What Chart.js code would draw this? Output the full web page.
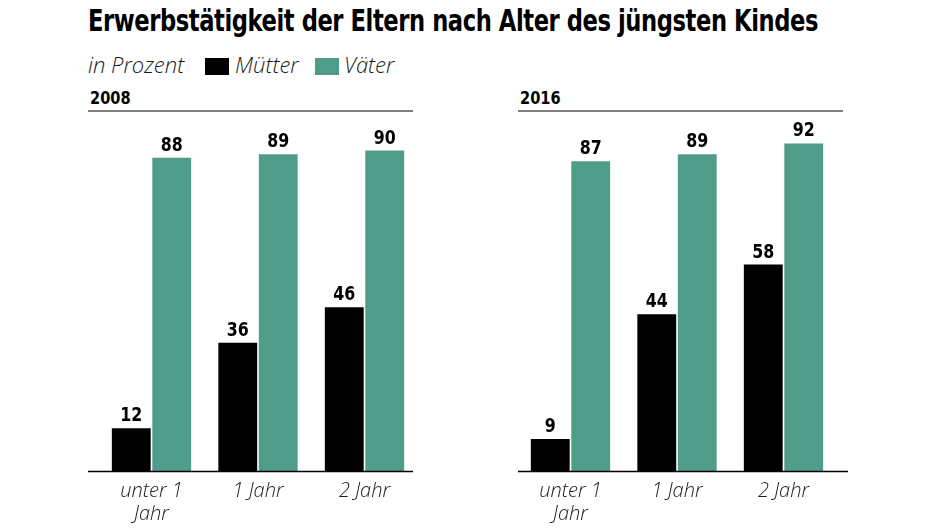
<!DOCTYPE html>
<html><head><meta charset="utf-8">
<script src="https://cdn.jsdelivr.net/npm/chart.js@4/dist/chart.umd.min.js"></script>
<style>
html,body{margin:0;padding:0;background:#fff;width:940px;height:528px;overflow:hidden;position:relative}
.t{position:absolute;white-space:nowrap;color:#000}
#title{left:88px;top:3px;font-family:"DejaVu Sans Condensed","DejaVu Sans",sans-serif;font-stretch:condensed;font-weight:bold;font-size:30px;transform-origin:0 0;letter-spacing:-0.5px}
.it{font:italic 300 22px "Open Sans";color:#1a1a1a;top:49px}
.sq{position:absolute;width:24px;height:17px}
.yr{font-family:"DejaVu Sans Condensed","DejaVu Sans",sans-serif;font-stretch:condensed;font-weight:bold;font-size:18px;top:87px;transform-origin:0 0;transform:scaleX(0.9)}
.ln{position:absolute;height:2px;background:#7f7f7f;top:110px}
canvas{position:absolute}
</style></head><body>
<div class="t" id="title">Erwerbstätigkeit der Eltern nach Alter des jüngsten Kindes</div>
<div class="t it" style="left:88px">in Prozent</div>
<div class="sq" style="left:205px;top:58px;background:#000"></div>
<div class="t it" style="left:235px">Mütter</div>
<div class="sq" style="left:315px;top:58px;background:#4f9c88"></div>
<div class="t it" style="left:344px">Väter</div>
<div class="t yr" style="left:90px">2008</div>
<div class="t yr" style="left:520px">2016</div>
<div class="ln" style="left:88px;width:325px"></div>
<div class="ln" style="left:518px;width:325px"></div>
<div style="position:absolute;left:80px;top:112px;width:350px;height:416px"><canvas id="c1"></canvas></div>
<div style="position:absolute;left:505px;top:112px;width:350px;height:416px"><canvas id="c2"></canvas></div>
<script>
const categories = [["unter 1","Jahr"],"1 Jahr","2 Jahr"];
const mothers2008 = [12, 36, 46];
const fathers2008 = [88, 89, 90];
const mothers2016 = [9, 44, 58];
const fathers2016 = [87, 89, 92];

(function(){const t=document.getElementById('title');const w=t.getBoundingClientRect().width;t.style.transform='scaleX('+(730/w)+')';})();

const valueLabels = {
  id:'valueLabels',
  afterDatasetsDraw(chart){
    const ctx=chart.ctx;ctx.save();
    ctx.font='bold 20px "DejaVu Sans Condensed", "DejaVu Sans", sans-serif';
    try{ctx.fontStretch='condensed';}catch(e){}
    ctx.fillStyle='#000';ctx.textAlign='center';ctx.textBaseline='alphabetic';
    chart.data.datasets.forEach((ds,i)=>{
      chart.getDatasetMeta(i).data.forEach((bar,j)=>{
        ctx.save();ctx.translate(bar.x,bar.y-7);ctx.scale(0.88,1);
        ctx.fillText(String(ds.data[j]),0,0);ctx.restore();
      });
    });
    ctx.restore();
  }
};
const baseLine = {
  id:'baseLine',
  afterDatasetsDraw(chart,args,opts){
    const ctx=chart.ctx;const y=chart.chartArea.bottom;
    ctx.save();ctx.strokeStyle='#000';ctx.lineWidth=1.5;ctx.beginPath();
    ctx.moveTo(opts.x0,y+0.5);ctx.lineTo(opts.x1,y+0.5);ctx.stroke();ctx.restore();
  }
};
function make(id,m,f,padL,padR,x0,x1){
  new Chart(document.getElementById(id),{
    type:'bar',
    data:{labels:categories,datasets:[
      {label:'Mütter',data:m,backgroundColor:'#000',categoryPercentage:0.76,barPercentage:0.96},
      {label:'Väter',data:f,backgroundColor:'#4f9c88',categoryPercentage:0.76,barPercentage:0.96}
    ]},
    options:{responsive:true,maintainAspectRatio:false,animation:false,devicePixelRatio:1,
      layout:{padding:{left:padL,right:padR,top:3,bottom:0}},
      plugins:{legend:{display:false},tooltip:{enabled:false},baseLine:{x0:x0,x1:x1}},
      scales:{
        y:{display:false,min:0,max:100},
        x:{grid:{display:false},border:{display:false},
           ticks:{color:'#1a1a1a',font:{family:'Open Sans',style:'italic',weight:300,size:20,lineHeight:1.15},padding:1,maxRotation:0,autoSkip:false},
           afterFit(s){s.height=57;}}
      }}
    ,plugins:[valueLabels,baseLine]
  });
}
make('c1',mothers2008,fathers2008,18.25,12.25,8,333);
make('c2',mothers2016,fathers2016,12.25,18.25,13,343);
</script>
</body></html>
